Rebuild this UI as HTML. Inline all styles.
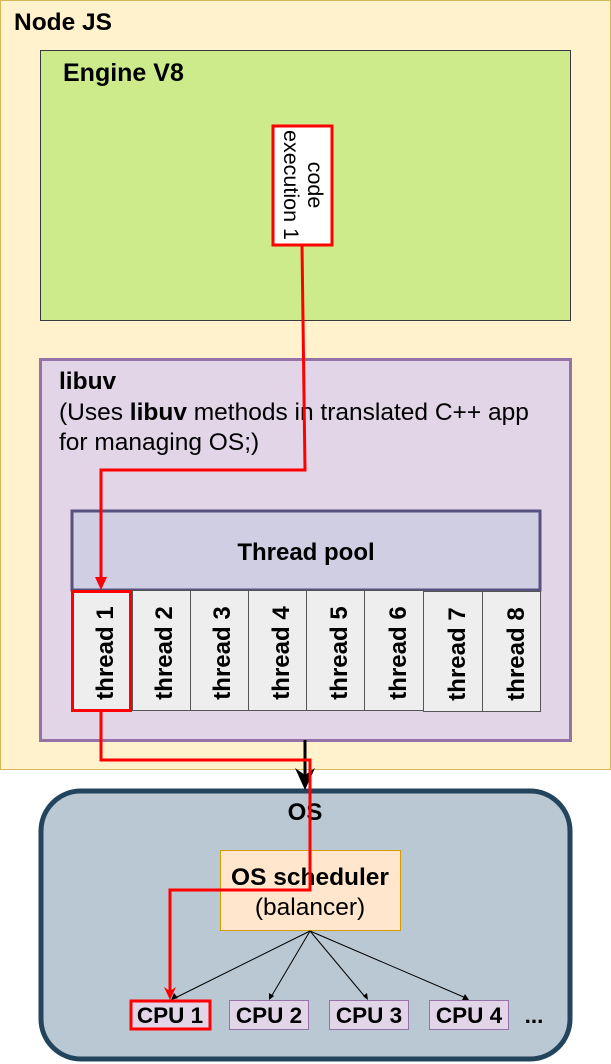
<!DOCTYPE html>
<html><head><meta charset="utf-8"><style>
html,body{margin:0;padding:0;background:#fff;}
svg{display:block;font-family:"Liberation Sans",sans-serif;}
</style></head><body>
<svg width="611" height="1064" viewBox="0 0 611 1064" xmlns="http://www.w3.org/2000/svg">
<rect x="0.5" y="0.5" width="610" height="769" fill="#fff2cc" stroke="#d6b656"/>
<text x="14" y="30" font-size="24.5" font-weight="bold">Node JS</text>
<rect x="40.5" y="50.5" width="530" height="270" fill="#cdeb8b" stroke="#36393d"/>
<text x="63" y="81" font-size="25" font-weight="bold">Engine V8</text>
<rect x="273" y="126" width="59" height="119" fill="#fff" stroke="#ff0000" stroke-width="3"/>
<g transform="translate(302,185) rotate(90)" font-size="21.5" text-anchor="middle">
<text x="0" y="-6">code</text>
<text x="0" y="18">execution 1</text>
</g>
<rect x="40.5" y="359.5" width="530" height="381" fill="#e1d5e7" stroke="#9673a6" stroke-width="3"/>
<text x="59" y="389" font-size="24.5" font-weight="bold">libuv</text>
<text x="59" y="420" font-size="24.5">(Uses <tspan font-weight="bold">libuv</tspan> methods in translated C++ app</text>
<text x="59" y="450" font-size="24.5">for managing OS;)</text>
<rect x="72" y="511" width="468" height="79" fill="#d0cee2" stroke="#56517e" stroke-width="3"/>
<text x="306" y="560" font-size="24" font-weight="bold" text-anchor="middle">Thread pool</text>
<g stroke="#555" fill="#eeeeee">
<rect x="132.5" y="590.5" width="58" height="120"/>
<rect x="190.5" y="590.5" width="58" height="120"/>
<rect x="248.5" y="590.5" width="58" height="120"/>
<rect x="306.5" y="590.5" width="58" height="120"/>
<rect x="364.5" y="590.5" width="59" height="120"/>
<rect x="423.5" y="591.5" width="59" height="120"/>
<rect x="482.5" y="591.5" width="58" height="120"/>
</g>
<rect x="72.5" y="591.5" width="58" height="119" fill="#eeeeee" stroke="#ff0000" stroke-width="3"/>
<g font-size="24" font-weight="bold" text-anchor="middle">
<text transform="translate(113,653) rotate(-90)">thread 1</text>
<text transform="translate(172,653) rotate(-90)">thread 2</text>
<text transform="translate(230,653) rotate(-90)">thread 3</text>
<text transform="translate(289,653) rotate(-90)">thread 4</text>
<text transform="translate(347,653) rotate(-90)">thread 5</text>
<text transform="translate(406,653) rotate(-90)">thread 6</text>
<text transform="translate(465,654) rotate(-90)">thread 7</text>
<text transform="translate(524,654) rotate(-90)">thread 8</text>
</g>
<rect x="41" y="791" width="529" height="268" rx="40" fill="#bac8d3" stroke="#23445d" stroke-width="5"/>
<text x="305" y="820" font-size="24" font-weight="bold" text-anchor="middle">OS</text>
<line x1="305" y1="740" x2="305" y2="780" stroke="#000" stroke-width="3"/>
<path d="M295,768 L305,790 L315,768 L305,775 Z" fill="#000"/>
<rect x="220.5" y="850.5" width="180" height="80" fill="#ffe6cc" stroke="#d79b00"/>
<text x="310" y="885" font-size="24.5" font-weight="bold" text-anchor="middle">OS scheduler</text>
<text x="310" y="915" font-size="24.5" text-anchor="middle">(balancer)</text>
<g stroke="#000" stroke-width="1">
<line x1="310" y1="931" x2="175" y2="998"/>
<line x1="310" y1="931" x2="271" y2="997"/>
<line x1="310" y1="931" x2="366" y2="998"/>
<line x1="310" y1="931" x2="466" y2="998"/>
</g>
<g fill="#000">
<path d="M171,1000 l3,-7 l4,5 z"/>
<path d="M269,1000 l0,-7 l5,3 z"/>
<path d="M368,1000 l-5,-4 l4,-3 z"/>
<path d="M469,1000 l-7,0 l3,-6 z"/>
</g>
<g fill="#e1d5e7" stroke="#9673a6">
<rect x="229.5" y="1000.5" width="79" height="29"/>
<rect x="329.5" y="1000.5" width="79" height="29"/>
<rect x="429.5" y="1000.5" width="79" height="29"/>
</g>
<rect x="131" y="1001" width="79" height="28" fill="#e1d5e7" stroke="#ff0000" stroke-width="3"/>
<g font-size="22.5" font-weight="bold" text-anchor="middle">
<text x="170" y="1023">CPU 1</text>
<text x="269" y="1023">CPU 2</text>
<text x="369" y="1023">CPU 3</text>
<text x="469" y="1023">CPU 4</text>
<text x="534" y="1023">...</text>
</g>
<g fill="none" stroke="#ff0000" stroke-width="3">
<polyline points="302,245 305,470 101,470 101,580"/>
<polyline points="101,711 101,760 310,760 310,890 170,890 170,992"/>
</g>
<path d="M95,577 L101,590 L107,577 Z" fill="#ff0000"/>
<path d="M164,987 L170,1000 L176,987 L170,991 Z" fill="#ff0000"/>
</svg>
</body></html>
